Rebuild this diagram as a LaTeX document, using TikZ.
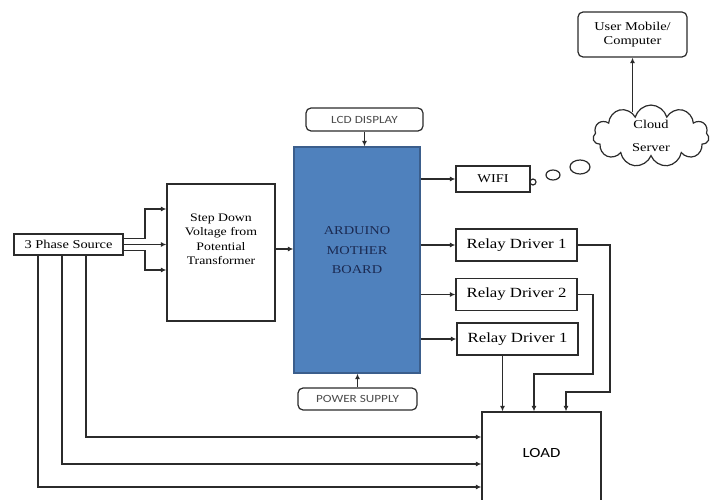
\documentclass[tikz,border=0pt]{standalone}
\usepackage{fontspec}
\setmainfont{Liberation Serif}[FakeStretch=1.2]
\newfontfamily\calib{Carlito}[FakeStretch=1.2]
\usepackage{xcolor}
\usepackage{tikz}
\usetikzlibrary{shapes.symbols, arrows.meta, positioning}

\definecolor{ardblue}{HTML}{4F81BD}
\definecolor{ardedge}{HTML}{3B5E8C}
\definecolor{ardtext}{HTML}{1B2A52}
\definecolor{linegray}{HTML}{2B2B2B}

\begin{document}
\begin{tikzpicture}[
        x=1pt, y=-1pt,
        box/.style={draw=linegray, line width=1.2pt, fill=white, inner sep=0pt, align=center},
        softbox/.style={box, rounded corners=5pt, font=\calib\fontsize{11}{13}\selectfont, text=black!70},
        relay/.style={box, minimum width=121, minimum height=32, font=\fontsize{14}{16}\selectfont},
        wire/.style={draw=linegray, line width=1.2pt},
        >={Latex[length=5.5pt,width=5pt]}
    ]
        \clip (0,0) rectangle (715,500);

        % Blocks
        \node[box, rounded corners=5pt, minimum width=109, minimum height=45, font=\fontsize{12}{14}\selectfont] (user) at (632.5,34.5) {User Mobile/\\Computer};
        \node[cloud, draw=linegray, line width=1.2pt, cloud puffs=11, aspect=2, minimum width=116, minimum height=60, inner sep=0pt, align=center, font=\fontsize{12}{14}\selectfont] (cloud) at (651,136) {Cloud\\[9pt]Server};
        \node[softbox, minimum width=117, minimum height=23] (lcd) at (364.5,119.5) {LCD DISPLAY};
        \node[box, fill=ardblue, draw=ardedge, minimum width=126, minimum height=226, text=ardtext, text depth=19pt, font=\fontsize{12}{19.5}\selectfont] (ard) at (357,260) {ARDUINO\\MOTHER\\BOARD};
        \node[softbox, minimum width=119, minimum height=22] (pwr) at (357.5,399) {POWER SUPPLY};
        \node[box, minimum width=108, minimum height=137, text depth=27pt, font=\fontsize{11.5}{14.5}\selectfont] (step) at (221,252.5) {Step Down\\Voltage from\\Potential\\Transformer};
        \node[box, minimum width=109, minimum height=21, font=\fontsize{12}{14}\selectfont] (src) at (68.5,244.5) {3 Phase Source};
        \node[box, minimum width=74, minimum height=26, font=\fontsize{12}{14}\selectfont] (wifi) at (493,179) {WIFI};
        \node[relay] (r1) at (516.5,245) {Relay Driver 1};
        \node[relay] (r2) at (516.5,294.5) {Relay Driver 2};
        \node[relay] (r3) at (517.5,339) {Relay Driver 1};
        \node[box, minimum width=119, minimum height=98, text depth=16pt, font=\calib\fontsize{14}{16}\selectfont] (load) at (541.5,461) {LOAD};

        % Thought bubbles
        \draw[wire] (533,182) ellipse (3 and 3);
        \draw[wire] (553,175) ellipse (7 and 5);
        \draw[wire] (580,167) ellipse (10 and 7);

        % Arrows
        \draw[wire, ->] ([yshift=-8pt]user.south |- cloud.north) -- (user.south);
        \draw[wire, ->] (lcd.south) -- (lcd.south |- ard.north);
        \draw[wire, ->] (pwr.north) -- (pwr.north |- ard.south);
        \draw[wire, ->] (step.east |- 0,249) -- (ard.west |- 0,249);
        \draw[wire, ->] (ard.east |- wifi) -- (wifi.west);
        \draw[wire, ->] (ard.east |- r1) -- (r1.west);
        \draw[wire, ->] (ard.east |- r2) -- (r2.west);
        \draw[wire, ->] (ard.east |- r3) -- (r3.west);

        % Source to transformer
        \draw[wire, ->] ([yshift=6pt]src.east) -| (145,209) -- (step.west |- 0,209);
        \draw[wire, ->] (src.east) -- (step.west |- src.east);
        \draw[wire, ->] ([yshift=-6pt]src.east) -| (145,270) -- (step.west |- 0,270);

        % Source to load
        \draw[wire, ->] (src.south -| 86,0) |- (load.west |- 0,437);
        \draw[wire, ->] (src.south -| 62,0) |- (load.west |- 0,464);
        \draw[wire, ->] (src.south -| 38,0) |- (load.west |- 0,487);

        % Relays to load
        \draw[wire, ->] ([xshift=-15pt]r3.south) -- ([xshift=-15pt]r3.south |- load.north);
        \draw[wire, ->] (r2.east) -| (593,374) -| (load.north -| 534,0);
        \draw[wire, ->] (r1.east) -| (610,392) -| (load.north -| 566,0);
    \end{tikzpicture}
\end{document}
